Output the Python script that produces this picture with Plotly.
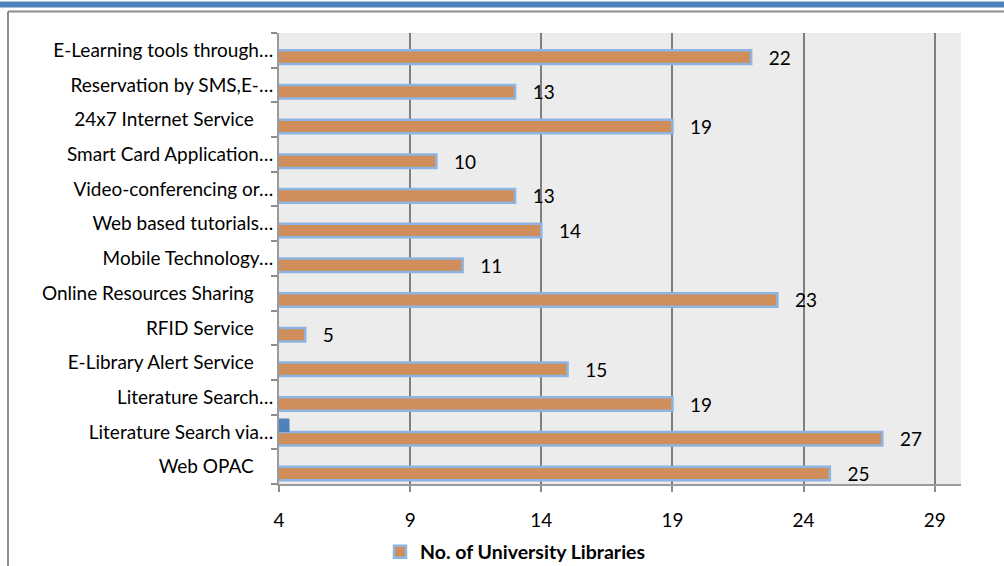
import plotly.graph_objects as go

categories = [
    "Web OPAC",
    "Literature Search via…",
    "Literature Search…",
    "E-Library Alert Service",
    "RFID Service",
    "Online Resources Sharing",
    "Mobile Technology…",
    "Web based tutorials…",
    "Video-conferencing or…",
    "Smart Card Application…",
    "24x7 Internet Service",
    "Reservation by SMS,E-…",
    "E-Learning tools through…",
]
libraries = [25, 27, 19, 15, 5, 23, 11, 14, 13, 10, 19, 13, 22]
second_series = [None, 4.4, None, None, None, None, None, None, None, None, None, None, None]
x_ticks = [4, 9, 14, 19, 24, 29]

FONT = "Lato, Open Sans, sans-serif"
NB = "\u00a0"
tick_labels = [c if c.endswith("…") else c + NB * 4 for c in categories]

fig = go.Figure()
fig.add_trace(go.Bar(
    y=categories, x=libraries, orientation="h",
    name="No. of University Libraries",
    marker=dict(color="#D08F5A", line=dict(color="#8DB4E2", width=2.5)),
    text=[NB * 3 + str(v) for v in libraries], textposition="outside",
    constraintext="none",
    textfont=dict(family=FONT, size=19, color="#000000"),
    cliponaxis=False,
))
fig.add_trace(go.Bar(
    y=categories, x=second_series, orientation="h",
    name="", showlegend=False,
    marker=dict(color="#4F81BD", line=dict(width=0)),
))

L, R, T, B = 279, 961, 33, 484
W, H = R - L, B - T


def px(x):
    return (x - L) / W


def py(y):
    return (B - y) / H


shapes = [
    dict(type="rect", xref="paper", yref="paper", x0=px(0), x1=px(1004), y0=py(7.5), y1=py(1.5),
         fillcolor="#4F81BD", line=dict(width=0), layer="above"),
    dict(type="line", xref="paper", yref="paper", x0=px(8), x1=px(1004), y0=py(11.5), y1=py(11.5),
         line=dict(color="#8C8C8C", width=2)),
    dict(type="line", xref="paper", yref="paper", x0=px(8), x1=px(8), y0=py(11.5), y1=py(570),
         line=dict(color="#8C8C8C", width=2)),
]

fig.update_layout(
    width=1004, height=566,
    margin=dict(l=L, r=1004 - R, t=T, b=566 - B, autoexpand=False),
    paper_bgcolor="#FFFFFF",
    plot_bgcolor="#ECECEC",
    barmode="group", bargap=0.22, bargroupgap=0,
    font=dict(family=FONT, size=19, color="#000000"),
    shapes=shapes,
    showlegend=True,
    legend=dict(orientation="h", x=px(380), xanchor="left", y=py(552), yanchor="middle",
                font=dict(family=FONT, size=19.5, color="#000000", weight="bold"),
                itemwidth=30, traceorder="normal", bgcolor="rgba(0,0,0,0)"),
    xaxis=dict(range=[4, 30], tickvals=x_ticks, ticktext=[str(t) for t in x_ticks],
               showgrid=True, gridcolor="#7F7F7F", gridwidth=2,
               showline=True, linecolor="#9A9A9A", linewidth=2,
               ticks="outside", ticklen=6, tickcolor="#8C8C8C", tickwidth=2,
               ticklabelstandoff=12,
               tickfont=dict(family=FONT, size=19, color="#000000"),
               zeroline=False, fixedrange=True, automargin=False),
    yaxis=dict(type="category", categoryorder="array", categoryarray=categories,
               tickvals=categories, ticktext=tick_labels,
               showline=True, linecolor="#9A9A9A", linewidth=2,
               ticks="outside", tickson="boundaries", ticklen=6, tickcolor="#8C8C8C", tickwidth=2,
               tickfont=dict(family=FONT, size=19, color="#000000"),
               showgrid=False, fixedrange=True, automargin=False),
)

fig.write_html("out.html", config={"displayModeBar": False},
               post_script="document.body.style.margin='0';document.body.style.overflow='hidden';")
